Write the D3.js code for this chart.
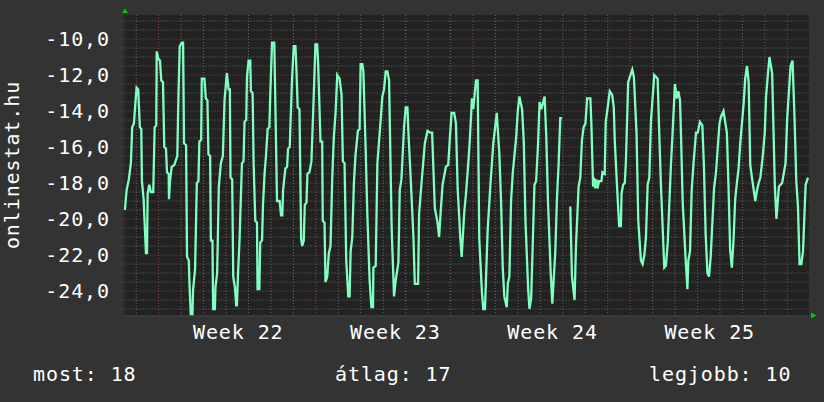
<!DOCTYPE html>
<html>
<head>
<meta charset="utf-8">
<script src="https://cdn.jsdelivr.net/npm/d3@7"></script>
<style>
html, body { margin: 0; padding: 0; background: #333333; }
svg { display: block; }
text { font-family: "DejaVu Sans Mono", monospace; font-size: 20px; fill: #ffffff; letter-spacing: 0.9px; }
</style>
</head>
<body>
<svg id="chart" width="824" height="402"></svg>
<script>
// [hours from start of week 22, value]
const week21 = [[-36.1,-19.5],[-34.3,-18.4],[-31.9,-17.8],[-29.7,-16.9],[-28.3,-14.9],[-26.5,-14.7],[-25.1,-13.7],
  [-23.6,-12.7],[-21.9,-12.8],[-20.1,-14.9],[-18.6,-15.0],[-17.9,-17.9],[-16.1,-18.9],[-13.6,-21.9],[-12.5,-21.9],
  [-11.8,-18.6],[-10.1,-18.1],[-8.3,-18.5],[-5.8,-18.5],[-4.3,-14.9],[-2.6,-14.8],[-2.1,-10.7],[-0.4,-11.1]];
const week22 = [[1.4,-11.2],[2.8,-12.3],[4.6,-12.4],[6.0,-16.0],[7.8,-16.1],[8.9,-17.4],[10.7,-17.5],[11.0,-18.9],
  [12.1,-17.9],[13.9,-17.1],[16.7,-17.0],[18.6,-16.7],[19.9,-16.5],[21.0,-13.5],[22.5,-10.4],[24.7,-10.2],[26.1,-10.2],
  [27.1,-15.8],[29.3,-15.9],[30.3,-22.1],[32.2,-22.3],[32.8,-23.4],[34.3,-25.3],[36.1,-25.3],[36.8,-23.9],[38.9,-22.8],
  [40.8,-18.0],[42.5,-17.9],[43.5,-15.7],[45.4,-15.6],[46.1,-12.2],[48.9,-12.2],[50.4,-13.3],[52.1,-13.4],[53.2,-16.4],
  [55.0,-16.5],[55.8,-21.2],[57.5,-21.2],[58.2,-25.0],[60.1,-25.0],[60.7,-23.8],[62.5,-23.0],[64.3,-18.2],[66.5,-16.9],
  [68.6,-16.5],[70.4,-13.4],[72.9,-11.9],[74.7,-12.8],[76.1,-12.8],[76.8,-17.7],[78.6,-17.8],[79.7,-23.2],[81.5,-23.8],
  [82.9,-24.8],[83.6,-24.8],[84.7,-23.2],[86.5,-21.1],[89.0,-16.9],[90.7,-16.8],[91.8,-14.6],[93.6,-14.5],[94.4,-12.1],
  [96.1,-11.2],[97.9,-11.2],[98.6,-12.9],[100.4,-13.0],[101.5,-16.9],[103.3,-20.1],[105.1,-20.2],[105.7,-23.9],
  [107.6,-23.9],[108.6,-21.3],[110.5,-21.2],[111.5,-19.2],[113.3,-17.4],[114.7,-16.5],[116.5,-15.0],[118.3,-14.9],
  [119.4,-12.9],[121.2,-10.2],[123.6,-10.2],[124.7,-13.5],[126.5,-19.0],[129.3,-19.0],[130.8,-19.8],[132.2,-19.8],
  [133.0,-18.4],[135.4,-17.2],[137.3,-17.1],[138.3,-16.1],[140.1,-16.0],[141.1,-14.4],[142.6,-12.2],[144.4,-10.4],
  [146.2,-10.4],[147.2,-11.6],[148.6,-13.8],[150.5,-13.9],[152.3,-21.1],[153.4,-21.5],[155.1,-21.2],[156.2,-19.2],
  [158.0,-19.1],[159.0,-17.5],[161.2,-17.4],[163.3,-16.8],[165.2,-14.0],[167.6,-10.3]];
const week23 = [[169.4,-10.3],[170.5,-11.4],[173.0,-15.7],[174.8,-15.7],[175.4,-20.1],[177.3,-20.2],[178.3,-23.5],
  [180.2,-23.2],[181.9,-21.9],[183.7,-21.5],[185.5,-17.8],[187.2,-15.5],[189.1,-14.1],[190.9,-12.0],[193.4,-12.2],
  [195.5,-13.1],[196.9,-16.8],[198.7,-16.9],[200.5,-22.3],[202.7,-24.3],[204.1,-24.3],[205.2,-21.8],[207.0,-21.0],
  [208.7,-18.0],[210.5,-16.4],[213.0,-15.1],[214.8,-15.0],[215.9,-11.4],[217.7,-11.4],[218.8,-11.8],[221.2,-16.0],
  [223.1,-19.8],[225.5,-23.4],[227.4,-24.9],[229.1,-24.9],[229.5,-22.7],[232.0,-22.6],[233.8,-16.9],[236.6,-15.0],
  [239.1,-13.2],[240.9,-12.8],[242.7,-11.8],[244.5,-11.8],[246.3,-12.3],[249.1,-20.6],[251.6,-24.3],[253.4,-23.4],
  [256.3,-22.4],[257.7,-18.4],[259.5,-17.8],[262.3,-14.9],[264.1,-13.8],[265.9,-13.8],[267.0,-15.2],[270.2,-18.6],
  [272.4,-21.1],[273.8,-23.6],[277.3,-23.6],[278.4,-19.7],[281.0,-18.0],[284.5,-15.8],[287.4,-15.1],[290.2,-15.2],
  [292.3,-15.2],[295.2,-19.4],[298.1,-20.2],[299.8,-21.0],[301.7,-19.4],[303.5,-18.1],[307.0,-17.1],[309.5,-17.0],
  [311.3,-15.5],[313.1,-14.1],[315.9,-14.1],[317.8,-14.7],[319.6,-18.3],[322.4,-21.0],[323.9,-22.1],[326.7,-19.6],
  [328.5,-18.6],[330.7,-17.1],[332.4,-15.8],[334.9,-13.3]];
const week24 = [[336.3,-13.9],[339.2,-12.3],[341.0,-12.3],[342.7,-21.1],[345.6,-24.1],[347.0,-25.0],[348.8,-25.0],
  [351.7,-20.6],[354.5,-18.2],[357.7,-15.8],[361.4,-14.1],[364.2,-16.4],[366.0,-19.0],[367.8,-22.7],[369.5,-24.3],
  [372.1,-24.9],[373.2,-23.6],[374.9,-23.2],[376.7,-19.0],[378.6,-17.4],[382.1,-15.5],[383.9,-14.0],[385.6,-13.2],
  [388.5,-13.9],[390.3,-15.7],[392.1,-20.1],[395.0,-23.9],[396.4,-25.0],[398.2,-24.4],[401.7,-18.1],[403.5,-17.9],
  [405.5,-15.9],[407.2,-13.5],[409.0,-13.9],[412.6,-13.2],[414.4,-15.5],[416.1,-18.9],[419.0,-22.9],[420.8,-24.7],
  [424.0,-21.8],[425.8,-18.8],[427.5,-17.0],[429.3,-14.4],[431.1,-14.4],[435.5,null],[440.0,-19.3],[441.8,-23.2],
  [444.6,-24.5],[446.1,-21.5],[448.9,-18.2],[450.7,-17.7],[452.5,-15.6],[454.3,-14.9],[456.2,-14.7],[458.0,-13.3],
  [461.5,-13.3],[462.6,-14.8],[464.4,-18.2],[465.4,-17.7],[466.8,-18.3],[467.9,-17.8],[469.0,-18.3],[470.8,-17.9],
  [473.3,-17.9],[474.4,-17.4],[476.8,-17.5],[477.9,-14.6],[480.5,-13.6],[482.2,-12.9],[484.8,-13.1],[486.5,-13.8],
  [487.6,-15.7],[490.5,-18.7],[492.3,-20.4],[494.1,-20.4],[494.8,-18.6],[496.5,-18.1],[498.3,-18.0],[499.4,-16.9],
  [501.9,-12.4],[503.7,-12.1]];
const week25 = [[506.3,-11.7],[508.0,-12.1],[510.8,-15.2],[512.7,-20.1],[515.5,-22.3],[517.3,-22.5],[519.2,-22.0],
  [520.9,-21.0],[522.7,-18.1],[524.5,-17.7],[526.2,-14.6],[529.8,-12.0],[531.6,-12.1],[533.4,-12.2],[535.1,-15.2],
  [536.9,-18.1],[540.5,-22.7],[542.2,-22.6],[544.1,-21.4],[547.6,-17.0],[549.1,-15.5],[551.9,-12.5],[553.7,-13.3],
  [555.5,-12.9],[557.3,-13.4],[558.4,-15.4],[560.2,-19.1],[563.6,-22.5],[565.2,-23.9],[566.2,-22.3],[568.0,-21.8],
  [569.8,-18.4],[571.6,-17.0],[574.4,-15.2],[576.3,-15.2],[578.6,-14.6],[581.2,-14.8],[582.9,-17.1],[584.7,-20.8],
  [586.6,-23.0],[588.3,-23.2],[590.1,-22.1],[593.7,-18.3],[595.8,-17.4],[597.7,-16.0],[599.5,-14.7],[601.2,-14.3],
  [603.8,-14.0],[607.4,-15.2],[609.1,-18.1],[610.9,-21.7],[612.7,-22.7],[614.5,-21.2],[616.3,-18.9],[618.1,-18.0],
  [619.9,-17.2],[621.7,-15.8],[625.3,-13.6],[627.0,-12.2],[628.9,-11.5],[630.7,-12.4],[632.4,-17.0],[634.2,-17.7],
  [637.8,-19.0],[639.6,-18.4],[641.4,-18.0],[643.2,-17.7],[645.8,-16.5],[647.9,-15.2],[649.3,-13.2],[651.2,-12.0],
  [652.9,-11.0],[655.8,-11.9],[658.7,-18.2],[660.4,-20.0],[663.0,-18.2],[664.7,-18.1],[666.5,-18.0],[670.1,-16.9],
  [671.9,-14.4]];
const week26 = [[675.5,-11.5],[677.6,-11.2],[679.8,-14.5],[681.6,-17.9],[683.4,-19.3],[685.1,-22.5],[687.0,-22.5],
  [688.8,-21.8],[691.6,-18.1],[694.1,-17.7]];

const weekStarts = [0, 168, 336, 504, 672];
const weekLabels = ["Week 22", "Week 23", "Week 24", "Week 25"];
const yTicks = [-24, -22, -20, -18, -16, -14, -12, -10];
const yTitle = "onlinestat.hu";
const legendLabels = ["most", "átlag", "legjobb"];
const legendValues = [18, 17, 10];

const W = 824, H = 402;
const plotL = 123.5, plotR = 809, plotT = 15, plotB = 315.5;
const lineColor = "#80ffc0";

var x = d3.scaleLinear().domain([-37.6, 695.2]).range([plotL, plotR]);
var y = d3.scaleLinear().domain([-25.36, -8.667]).range([plotB, plotT]);

var huLocale = d3.formatLocale({decimal: ",", thousands: " ", grouping: [3], currency: ["", ""], minus: "-"});
var fmt = huLocale.format(".1f");

var svg = d3.select("#chart");
svg.append("rect").attr("width", W).attr("height", H).attr("fill", "#333333");
svg.append("rect")
  .attr("x", plotL).attr("y", plotT)
  .attr("width", plotR - plotL).attr("height", plotB - plotT)
  .attr("fill", "#222222");

svg.append("defs").append("clipPath").attr("id", "plotclip")
  .append("rect")
  .attr("x", plotL).attr("y", plotT)
  .attr("width", plotR - plotL).attr("height", plotB - plotT);

// grid: minor every day / half unit, major (red) at week starts / every 2 units
var days = d3.range(-24, 695, 24).filter(d => weekStarts.indexOf(d) < 0);
var halfs = d3.range(-25, -8.9, 0.5).filter(v => yTicks.indexOf(v) < 0);
var minorCol = "#6a6a6a", majorCol = "#8e4646";

var grid = svg.append("g");
grid.selectAll(".vmin").data(days).join("line")
  .attr("x1", d => x(d)).attr("x2", d => x(d))
  .attr("y1", plotT).attr("y2", plotB + 2)
  .attr("stroke", minorCol).attr("stroke-dasharray", "1,2");
grid.selectAll(".hmin").data(halfs).join("line")
  .attr("x1", plotL - 2).attr("x2", plotR)
  .attr("y1", d => y(d)).attr("y2", d => y(d))
  .attr("stroke", minorCol).attr("stroke-dasharray", "1,2");
grid.selectAll(".vmaj").data(weekStarts).join("line")
  .attr("x1", d => x(d)).attr("x2", d => x(d))
  .attr("y1", plotT).attr("y2", plotB + 2)
  .attr("stroke", majorCol).attr("stroke-dasharray", "1,2");
grid.selectAll(".hmaj").data(yTicks).join("line")
  .attr("x1", plotL - 2).attr("x2", plotR)
  .attr("y1", d => y(d)).attr("y2", d => y(d))
  .attr("stroke", majorCol).attr("stroke-dasharray", "1,2");

// axis lines
svg.append("line")
  .attr("x1", plotL).attr("x2", plotR + 2)
  .attr("y1", plotB + 0.5).attr("y2", plotB + 0.5)
  .attr("stroke", "#3e3e3e").attr("stroke-width", 1.5);
svg.append("line")
  .attr("x1", plotL + 1).attr("x2", plotL + 1)
  .attr("y1", plotT - 3).attr("y2", plotB)
  .attr("stroke", "#2c2c2c").attr("stroke-width", 2);

// the curve
var series = [].concat(week21, week22, week23, week24, week25, week26);
var line = d3.line()
  .defined(d => d[1] != null)
  .x(d => x(d[0]))
  .y(d => y(d[1]));

svg.append("path")
  .datum(series)
  .attr("clip-path", "url(#plotclip)")
  .attr("d", line)
  .attr("fill", "none")
  .attr("stroke", lineColor)
  .attr("stroke-width", 2.3)
  .attr("stroke-linejoin", "miter");

// arrows
svg.append("path")
  .attr("d", d3.line()([[plotL - 1.5, plotT - 2], [plotL + 4.5, plotT - 2], [plotL + 1.5, plotT - 6.5]]) + "Z")
  .attr("fill", "#00cc00");
svg.append("path")
  .attr("d", d3.line()([[plotR + 2, plotB - 3], [plotR + 2, plotB + 3], [plotR + 7.5, plotB]]) + "Z")
  .attr("fill", "#00cc00");

// labels
svg.append("g").selectAll("text").data(yTicks).join("text")
  .attr("x", 110)
  .attr("y", d => y(d) + 7.3)
  .attr("text-anchor", "end")
  .text(d => fmt(d));

svg.append("g").selectAll("text").data(weekLabels).join("text")
  .attr("x", (d, i) => x(weekStarts[i] + 84) + 1)
  .attr("y", 339)
  .attr("text-anchor", "middle")
  .text(d => d);

svg.append("text")
  .attr("transform", "translate(19,165) rotate(-90)")
  .attr("text-anchor", "middle")
  .text(yTitle);

var legendX = [33, 335, 649];
svg.append("g").selectAll("text").data(legendLabels).join("text")
  .attr("x", (d, i) => legendX[i])
  .attr("y", 381)
  .text((d, i) => d + ": " + legendValues[i]);
</script>
</body>
</html>
